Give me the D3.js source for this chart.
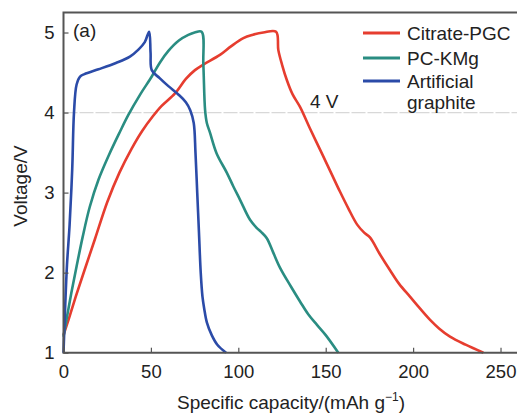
<!DOCTYPE html>
<html>
<head>
<meta charset="utf-8">
<script src="https://cdn.jsdelivr.net/npm/d3@7"></script>
<style>
  body { margin: 0; background: #fff; }
  svg text { font-family: "Liberation Sans", Arial, Helvetica, sans-serif; fill: #222; }
</style>
</head>
<body>
<div id="chart"></div>
<script>
// series names + colours
const seriesNames = ["Citrate-PGC", "PC-KMg", "Artificial graphite"];
const seriesColors = ["#e63d2f", "#2a8d82", "#2b4ba8"];

// capacity (mAh/g) and voltage (V)
const pgcCap = [0, 3, 7, 12, 18, 25, 32, 39, 45, 51, 56, 63.8, 70, 75.2, 80, 89.5, 96, 102.9, 108, 114.3, 121.6,
  122.9, 125, 127.7, 131, 135.3, 141, 148, 153, 158.2, 163, 168, 172, 175.3, 181, 186.8, 192, 198.2, 204, 209.7, 215, 221.1, 230, 240.2];
const pgcVolt = [1.22, 1.42, 1.7, 2.03, 2.42, 2.88, 3.25, 3.55, 3.77, 3.95, 4.08, 4.24, 4.42, 4.53, 4.6, 4.72, 4.83, 4.93, 4.97, 5.0, 5.01,
  4.78, 4.6, 4.41, 4.23, 4.07, 3.8, 3.48, 3.25, 3.01, 2.8, 2.6, 2.5, 2.44, 2.23, 2.03, 1.86, 1.7, 1.55, 1.41, 1.3, 1.2, 1.1, 1.0];

const kmgCap = [0, 2, 4.5, 7.5, 11, 15, 20, 26, 32.3, 37.1, 44, 50.5, 55, 60, 66, 71.4, 75, 79,
  80, 81, 82, 83.8, 87.6, 93.4, 97.1, 101, 106.7, 110.5, 113, 116.3, 120, 123.9, 130, 135.3, 140, 144.9, 150, 157.2];
const kmgVolt = [1.2, 1.45, 1.75, 2.08, 2.45, 2.82, 3.16, 3.47, 3.76, 3.97, 4.23, 4.45, 4.62, 4.77, 4.9, 4.97, 5.0, 5.01,
  4.6, 4.03, 3.87, 3.75, 3.49, 3.25, 3.08, 2.91, 2.66, 2.56, 2.51, 2.43, 2.25, 2.06, 1.83, 1.64, 1.48, 1.35, 1.22, 1.0];

const agCap = [0, 1, 2, 3.5, 5, 6, 7.5, 9.5, 12, 20, 30, 38, 43, 46.5, 49,
  49.8, 50.5, 55, 60, 66, 70, 72.5, 74.5, 75.5, 76.5, 77.5, 78.5, 79.5, 80.5, 82, 84.8, 88, 93];
const agVolt = [1.0, 1.6, 2.1, 2.6, 3.3, 4.0, 4.35, 4.45, 4.48, 4.54, 4.62, 4.7, 4.79, 4.88, 5.01,
  4.75, 4.53, 4.43, 4.33, 4.22, 4.13, 4.03, 3.87, 3.5, 3.0, 2.5, 2.0, 1.7, 1.55, 1.38, 1.22, 1.1, 1.0];

const xTicks = [0, 50, 100, 150, 200, 250];
const yTicks = [1, 2, 3, 4, 5];

const W = 517, H = 413;
const plotLeft = 63.5, plotRight = 518, plotTop = 12.5, plotBottom = 352.7;
const fontSize = 19;

const svg = d3.select("#chart").append("svg")
  .attr("width", W)
  .attr("height", H);

const x = d3.scaleLinear().domain([0, 260]).range([plotLeft, plotRight]);
const y = d3.scaleLinear().domain([1, 5.25]).range([plotBottom, plotTop]);

// 4 V reference line
svg.append("line")
  .attr("x1", plotLeft).attr("x2", W)
  .attr("y1", y(4)).attr("y2", y(4))
  .attr("stroke", "#d8d8d8")
  .attr("stroke-width", 1.2)
  .attr("stroke-dasharray", "14,2");

svg.append("text")
  .attr("x", x(141))
  .attr("y", y(4) - 5)
  .attr("font-size", fontSize)
  .text("4 V");

// curves
const series = [
  {cap: pgcCap, volt: pgcVolt},
  {cap: kmgCap, volt: kmgVolt},
  {cap: agCap, volt: agVolt}
];

const line = d3.line()
  .x(d => x(d[0]))
  .y(d => y(d[1]))
  .curve(d3.curveCatmullRom.alpha(0.5));

series.forEach((s, i) => {
  svg.append("path")
    .datum(s.cap.map((c, j) => [c, s.volt[j]]))
    .attr("fill", "none")
    .attr("stroke", seriesColors[i])
    .attr("stroke-width", 2.6)
    .attr("stroke-linejoin", "round")
    .attr("d", line);
});

// axes
const axisColor = "#555";

const xAxis = svg.append("g")
  .attr("transform", "translate(0," + plotBottom + ")")
  .call(d3.axisBottom(x).tickValues(xTicks).tickSize(-5).tickPadding(12));

const yAxis = svg.append("g")
  .attr("transform", "translate(" + plotLeft + ",0)")
  .call(d3.axisLeft(y).tickValues(yTicks).tickFormat(d3.format("d")).tickSize(-5).tickPadding(9));

[xAxis, yAxis].forEach(g => {
  g.select(".domain").remove();
  g.selectAll(".tick line").attr("stroke", axisColor).attr("stroke-width", 1.2);
  g.selectAll(".tick text")
    .attr("font-size", 18.5)
    .attr("fill", "#222")
    .style("font-family", "'Liberation Sans', Arial, sans-serif");
});

// frame (bottom, left, top)
svg.append("path")
  .attr("d", "M" + W + "," + plotBottom + "H" + plotLeft + "V" + plotTop + "H" + W)
  .attr("fill", "none")
  .attr("stroke", axisColor)
  .attr("stroke-width", 2);

// panel label
svg.append("text")
  .attr("x", 73)
  .attr("y", 37)
  .attr("font-size", fontSize)
  .text("(a)");

// legend
const legend = svg.append("g");
const legendY = [33, 58, 81];
seriesNames.forEach((name, i) => {
  legend.append("line")
    .attr("x1", 363).attr("x2", 400)
    .attr("y1", legendY[i]).attr("y2", legendY[i])
    .attr("stroke", seriesColors[i])
    .attr("stroke-width", 3);
  const t = legend.append("text")
    .attr("x", 407)
    .attr("y", legendY[i] + 7)
    .attr("font-size", fontSize);
  if (i === 2) {
    t.append("tspan").text("Artificial");
    t.append("tspan").attr("x", 407).attr("dy", 21).text("graphite");
  } else {
    t.text(name);
  }
});

// axis titles
const xt = svg.append("text")
  .attr("x", 291)
  .attr("y", 409)
  .attr("text-anchor", "middle")
  .attr("font-size", fontSize);
xt.append("tspan").text("Specific capacity/(mAh g");
xt.append("tspan").attr("dy", -8).attr("font-size", 12).text("\u22121");
xt.append("tspan").attr("dy", 8).text(")");

svg.append("text")
  .attr("transform", "translate(27," + 186 + ") rotate(-90)")
  .attr("text-anchor", "middle")
  .attr("font-size", fontSize)
  .text("Voltage/V");
</script>
</body>
</html>
